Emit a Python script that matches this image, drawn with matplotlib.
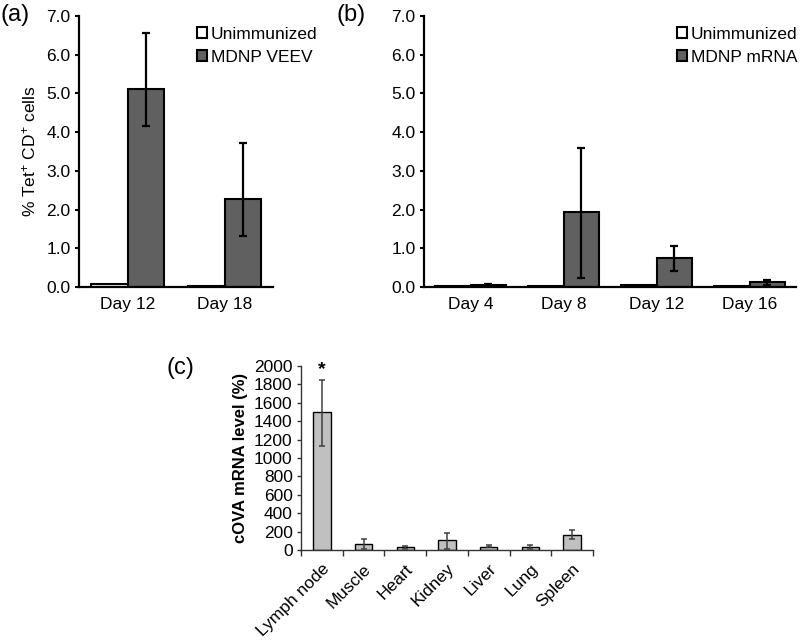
import matplotlib
matplotlib.use("Agg")
import matplotlib.pyplot as plt
import numpy as np

plt.rcParams['font.family'] = ['Liberation Sans', 'DejaVu Sans']
plt.rcParams['font.size'] = 12.5
plt.rcParams['mathtext.fontset'] = 'custom'
plt.rcParams['mathtext.rm'] = 'Liberation Sans'
plt.rcParams['mathtext.it'] = 'Liberation Sans:italic'
plt.rcParams['mathtext.bf'] = 'Liberation Sans:bold'

# ---- Panel (a) data ----
a_days = ["Day 12", "Day 18"]
a_unimm = [0.08, 0.03]
a_veev = [5.12, 2.28]
a_veev_hi = [6.57, 3.72]
a_veev_lo = [4.15, 1.31]

# ---- Panel (b) data ----
b_days = ["Day 4", "Day 8", "Day 12", "Day 16"]
b_unimm = [0.02, 0.02, 0.05, 0.02]
b_mrna = [0.06, 1.93, 0.74, 0.12]
b_mrna_hi = [0.09, 3.58, 1.05, 0.18]
b_mrna_lo = [0.03, 0.23, 0.41, 0.05]

# ---- Panel (c) data ----
c_tissues = ["Lymph node", "Muscle", "Heart", "Kidney", "Liver", "Lung", "Spleen"]
c_level = [1495, 65, 28, 105, 38, 33, 165]
c_hi = [1852, 116, 45, 188, 50, 55, 215]
c_lo = [1135, 14, 12, 14, 28, 12, 115]

y_ticks_ab = [0, 1, 2, 3, 4, 5, 6, 7]
y_ticks_c = list(range(0, 2001, 200))

DARK = '#606060'
LIGHT = '#c0c0c0'

fig = plt.figure(figsize=(8, 6.4), dpi=100)


def top_panel(ax, cats, unimm, treat, hi, lo, treat_label, legend_x):
    x = np.arange(len(cats))
    w = 0.38
    ax.bar(x - w / 2, unimm, width=w, color='white', edgecolor='black',
           linewidth=1.5, label='Unimmunized', zorder=2)
    ax.bar(x + w / 2, treat, width=w, color=DARK, edgecolor='black',
           linewidth=1.5, label=treat_label, zorder=2)
    treat = np.array(treat)
    yerr = [treat - np.array(lo), np.array(hi) - treat]
    ax.errorbar(x + w / 2, treat, yerr=yerr, fmt='none', ecolor='black',
                elinewidth=1.6, capsize=2.6, capthick=1.6, zorder=3)
    ax.set_xlim(-0.5, len(cats) - 0.5)
    ax.set_ylim(0, 7)
    ax.set_yticks(y_ticks_ab)
    ax.set_yticklabels([f"{v:.1f}" for v in y_ticks_ab])
    ax.set_xticks(x)
    ax.set_xticklabels(cats)
    for s in ['top', 'right']:
        ax.spines[s].set_visible(False)
    for s in ['left', 'bottom']:
        ax.spines[s].set_linewidth(1.6)
    ax.tick_params(axis='y', direction='out', length=3, width=1.5, pad=3)
    ax.tick_params(axis='x', length=0, pad=7)
    ax.legend(loc='upper left', bbox_to_anchor=(legend_x, 0.96),
              frameon=False, handlelength=0.6, handleheight=0.6,
              handletextpad=0.2, labelspacing=0.45, borderaxespad=0,
              borderpad=0, fontsize=12.5)


ax_a = fig.add_axes([79 / 800, 1 - 287 / 640, (273 - 79) / 800, (287 - 16) / 640])
top_panel(ax_a, a_days, a_unimm, a_veev, a_veev_hi, a_veev_lo, 'MDNP VEEV', 0.608)
ax_a.set_ylabel(r'% Tet$^{+}$ CD$^{+}$ cells', labelpad=6)

ax_b = fig.add_axes([424 / 800, 1 - 287 / 640, (796 - 424) / 800, (287 - 16) / 640])
top_panel(ax_b, b_days, b_unimm, b_mrna, b_mrna_hi, b_mrna_lo, 'MDNP mRNA', 0.68)

# ---- Panel (c) ----
ax_c = fig.add_axes([301 / 800, 1 - 550 / 640, (593 - 301) / 800, (550 - 366) / 640])
xc = np.arange(len(c_tissues))
lvl = np.array(c_level)
ax_c.bar(xc, lvl, width=0.42, color=LIGHT, edgecolor='black', linewidth=1.0, zorder=2)
ax_c.errorbar(xc, lvl, yerr=[lvl - np.array(c_lo), np.array(c_hi) - lvl], fmt='none',
              ecolor='#404040', elinewidth=1.1, capsize=2.2, capthick=1.1, zorder=3)
ax_c.set_xlim(-0.5, len(c_tissues) - 0.5)
ax_c.set_ylim(0, 2000)
ax_c.set_yticks(y_ticks_c)
ax_c.set_xticks(xc)
ax_c.set_xticklabels(c_tissues, rotation=45, ha='right', rotation_mode='anchor')
ax_c.set_xticks(np.arange(len(c_tissues) + 1) - 0.5, minor=True)
ax_c.tick_params(axis='x', which='major', length=0, pad=8)
ax_c.tick_params(axis='x', which='minor', length=4, width=1.0, direction='out', color='#333333')
ax_c.tick_params(axis='y', length=3, width=1.0, direction='out', pad=3, color='#333333')
for s in ['top', 'right']:
    ax_c.spines[s].set_visible(False)
for s in ['left', 'bottom']:
    ax_c.spines[s].set_linewidth(1.0)
    ax_c.spines[s].set_color('#333333')
ax_c.set_ylabel('cOVA mRNA level (%)', fontweight='bold', fontsize=12, labelpad=4)
ax_c.text(0, 1960, '*', ha='center', va='center', fontsize=14, fontweight='bold')

# panel labels
fig.text(1 / 800, 1 - 15 / 640, '(a)', fontsize=17, va='center', ha='left')
fig.text(337 / 800, 1 - 15 / 640, '(b)', fontsize=17, va='center', ha='left')
fig.text(167 / 800, 1 - 368 / 640, '(c)', fontsize=17, va='center', ha='left')

fig.savefig('out.png', dpi=100)
